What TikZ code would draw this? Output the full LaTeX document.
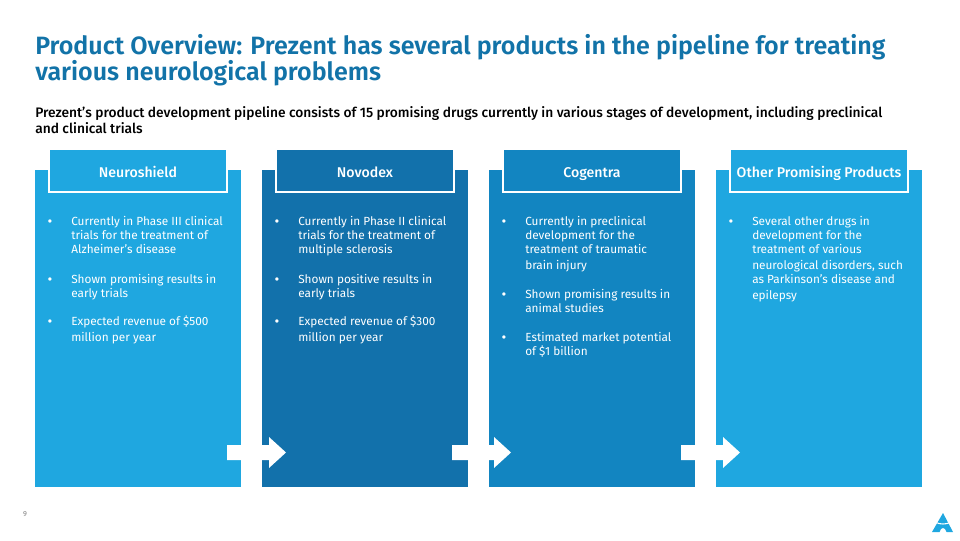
\documentclass[tikz,border=0pt]{standalone}
\usepackage{fontspec}
\setmainfont[BoldFont={Fira Sans Medium}]{Fira Sans}
\newfontfamily\titlefont{Fira Sans SemiBold}
\definecolor{lightblue}{HTML}{1FA7E0}
\definecolor{darkblue}{HTML}{1271AB}
\definecolor{midblue}{HTML}{1285C1}
\definecolor{titleblue}{HTML}{1273A8}
\tikzset{
  panel/.style={anchor=north west,minimum width=154.5pt,minimum height=237.75pt,inner sep=0pt,outer sep=0pt},
  header/.style={anchor=north west,minimum width=133.5pt,minimum height=32.25pt,inner sep=0pt,outer sep=0pt,draw=white,line width=1.1pt,text=white,text height=11.5pt,text depth=1.5pt,font=\fontsize{10.6}{12}\selectfont\bfseries},
  bullet/.style={anchor=north west,inner sep=0pt,text=white,font=\fontsize{8.85}{10.5}\selectfont,align=left},
  dot/.style={anchor=base,inner sep=0pt,text=white,font=\fontsize{11}{10.5}\selectfont},
  flow/.style={fill=white,draw=none}
}
\begin{document}
\begin{tikzpicture}[x=0.75pt,y=-0.75pt]
\useasboundingbox (0,0) rectangle (960,540);
\node[anchor=north west,inner sep=0pt,text=titleblue,font=\fontsize{18.78}{19.5}\titlefont,align=left](title)at(35,34){Product Overview: Prezent has several products in the pipeline for treating\\various neurological problems};
\node[anchor=north west,inner sep=0pt,text=black,font=\fontsize{10.33}{12}\selectfont\bfseries,align=left](subtitle)at(35,106){Prezent's product development pipeline consists of 15 promising drugs currently in various stages of development, including preclinical\\and clinical trials};
\node[panel,fill=lightblue](p1)at(35,170){};
\node[panel,fill=darkblue](p2)at(262,170){};
\node[panel,fill=midblue](p3)at(489,170){};
\node[panel,fill=lightblue](p4)at(716,170){};
\node[header,fill=lightblue](h1)at(49,149){Neuroshield};
\node[header,fill=darkblue](h2)at(276,149){Novodex};
\node[header,fill=midblue](h3)at(503,149){Cogentra};
\node[header,fill=lightblue](h4)at(730,149){Other Promising Products};
% first panel
\node[dot](d11)at(50,226){•};
\node[bullet](b11)at(71,216){Currently in Phase III clinical\\trials for the treatment of\\Alzheimer's disease};
\node[dot](d12)at(50,284){•};
\node[bullet](b12)at(71,274){Shown promising results in\\early trials};
\node[dot](d13)at(50,326){•};
\node[bullet](b13)at(71,316){Expected revenue of \$500\\[1.5pt]million per year};
% second panel
\node[dot](d21)at(277,226){•};
\node[bullet](b21)at(298,216){Currently in Phase II clinical\\trials for the treatment of\\multiple sclerosis};
\node[dot](d22)at(277,284){•};
\node[bullet](b22)at(298,274){Shown positive results in\\early trials};
\node[dot](d23)at(277,326){•};
\node[bullet](b23)at(298,316){Expected revenue of \$300\\[1.5pt]million per year};
% third panel
\node[dot](d31)at(504,226){•};
\node[bullet](b31)at(525,216){Currently in preclinical\\development for the\\treatment of traumatic\\[1.5pt]brain injury};
\node[dot](d32)at(504,299){•};
\node[bullet](b32)at(525,289){Shown promising results in\\animal studies};
\node[dot](d33)at(504,342){•};
\node[bullet](b33)at(525,332){Estimated market potential\\of \$1 billion};
% fourth panel
\node[dot](d41)at(731,226){•};
\node[bullet](b41)at(752,216){Several other drugs in\\development for the\\treatment of various\\[1.5pt]neurological disorders, such\\as Parkinson's disease and\\[1.5pt]epilepsy};
% arrows between the panels
\foreach \x/\n in {227/a1,452/a2,681/a3}{
  \fill[flow](\x,445)coordinate(\n)--++(42,0)--++(0,-8)--++(17,15.5)--++(-17,15.5)--++(0,-8)--++(-42,0)--cycle;
}
\node[anchor=center,inner sep=0pt,text=gray,font=\fontsize{5.5}{7}\selectfont](pagenum)at(25,514){9};
% logo
\fill[lightblue](943,513)coordinate(l1)--(953,532)--(946.5,532)..controls(945,526.5)and(941,526.5)..(939.5,532)--(932,532)--cycle;
\draw[white,line width=0.8pt](936,522.5)..controls(940,524.5)and(946,524.5)..(950,522.5);
\end{tikzpicture}
\end{document}
